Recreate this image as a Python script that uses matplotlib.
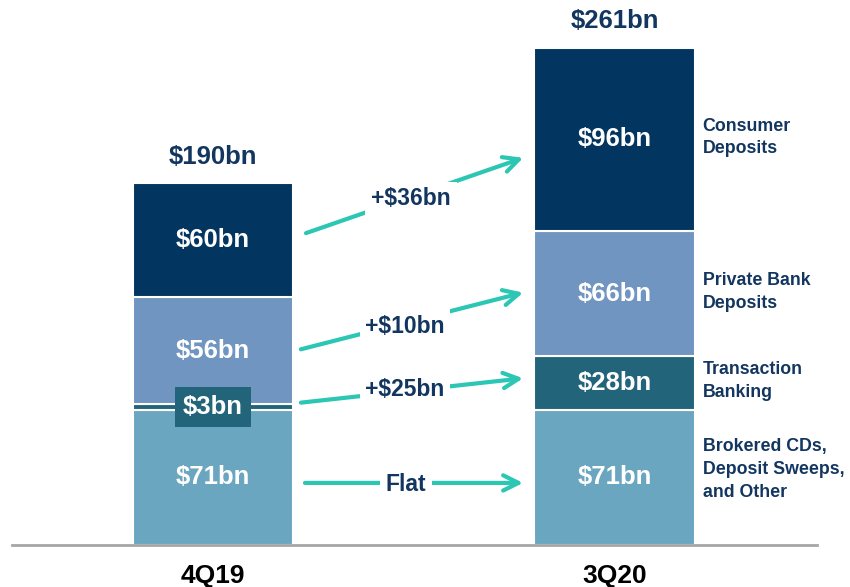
import matplotlib
matplotlib.use("Agg")
import matplotlib.pyplot as plt
import numpy as np

# data
periods = ["4Q19", "3Q20"]
segments = ["Brokered CDs,\nDeposit Sweeps,\nand Other", "Transaction\nBanking",
            "Private Bank\nDeposits", "Consumer\nDeposits"]
vals_4q19 = [71, 3, 56, 60]
vals_3q20 = [71, 28, 66, 96]
totals = [190, 261]
changes = ["Flat", "+$25bn", "+$10bn", "+$36bn"]

colors = ["#6BA6C0", "#22647A", "#7095C1", "#02355F"]
navy = "#12365F"
teal = "#2CC6B4"

plt.rcParams['font.family'] = ['Liberation Sans', 'DejaVu Sans']

fig = plt.figure(figsize=(8.5, 5.87), dpi=100)
ax = fig.add_axes([12/850, 42/587, 805/850, 545/587])
ax.set_xlim(-0.5006, 1.504)
ax.set_ylim(0, 286.2)

x = np.arange(len(periods))
w = 0.4
data = np.array([vals_4q19, vals_3q20])
bottoms = np.zeros(2)
for i in range(len(segments)):
    ax.bar(x, data[:, i], w, bottom=bottoms, color=colors[i],
           edgecolor="white", linewidth=1.5, zorder=2)
    for j in range(2):
        mid = bottoms[j] + data[j, i] / 2
        lab = "$%dbn" % data[j, i]
        if data[j, i] < 10:
            ax.text(x[j], mid, lab, ha="center", va="center", color="white",
                    fontsize=18.5, fontweight="bold", zorder=4,
                    bbox=dict(boxstyle="square,pad=0.3", fc=colors[i], ec="none"))
        else:
            ax.text(x[j], mid, lab, ha="center", va="center", color="white",
                    fontsize=18.5, fontweight="bold", zorder=4)
    # right side legend text
    off = 4 if i == 0 else 1
    ax.text(1.219, bottoms[1] + data[1, i] / 2 + off, segments[i], ha="left", va="center",
            color=navy, fontsize=12.8, fontweight="bold", linespacing=1.45)
    bottoms += data[:, i]

for j in range(2):
    ax.text(x[j], totals[j] + 14, "$%dbn" % totals[j], ha="center", va="center",
            color=navy, fontsize=18.5, fontweight="bold")

# change arrows (start y, end y, label y)
arrow_y0 = [32.6, 74.6, 102.4, 163.3]
arrow_y1 = [32.6, 87.7, 132.9, 203.8]
label_y = [32.0, 81.9, 115.0, 181.7]
label_x = [0.48, 0.478, 0.478, 0.493]
x0s = [0.222, 0.212, 0.212, 0.225]
for k in range(4):
    ax.annotate("", xy=(0.779, arrow_y1[k]), xytext=(x0s[k], arrow_y0[k]),
                arrowprops=dict(arrowstyle="->,head_length=1.1,head_width=0.55",
                                color=teal, lw=3), zorder=3)
    ax.text(label_x[k], label_y[k], changes[k], ha="center", va="center",
            color=navy, fontsize=16.5, fontweight="bold", zorder=5,
            bbox=dict(boxstyle="square,pad=0.25", fc="white", ec="none"))

ax.set_xticks(x)
ax.set_xticklabels(periods, fontsize=19, fontweight="bold", color="black")
ax.tick_params(axis="x", length=0, pad=14)
ax.set_yticks([])
for s in ["top", "right", "left"]:
    ax.spines[s].set_visible(False)
ax.spines["bottom"].set_color("#A6A6A6")
ax.spines["bottom"].set_linewidth(2)

fig.savefig("out.png", dpi=100)
